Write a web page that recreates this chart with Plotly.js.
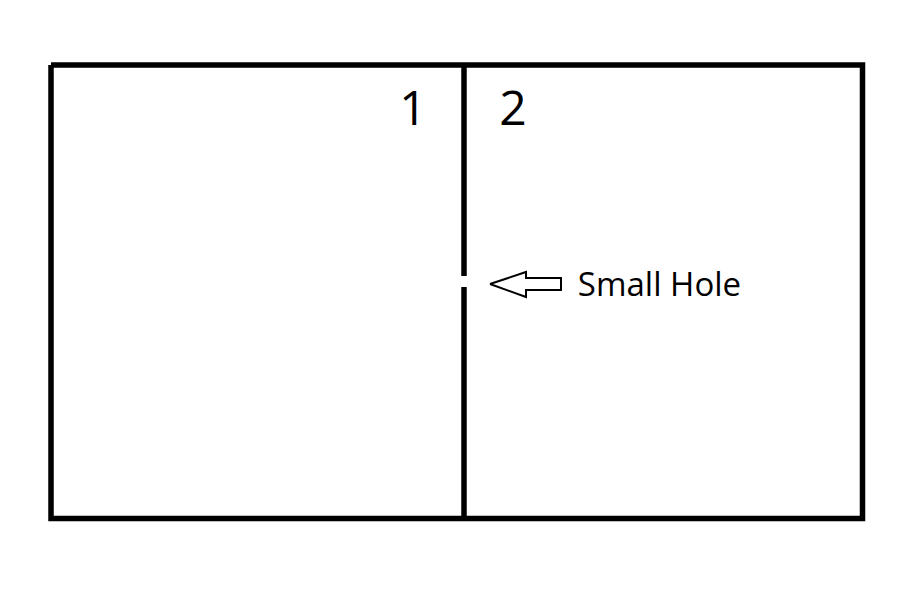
<!DOCTYPE html>
<html>
<head>
<meta charset="utf-8">
<script src="https://cdn.plot.ly/plotly-3.0.1.min.js"></script>
<style>
  html, body { margin: 0; padding: 0; background: #fff; }
  #chart { width: 923px; height: 598px; }
</style>
</head>
<body>
<div id="chart"></div>
<script>
// outer container, in pixel units of the picture
const boxX = [51, 862.5, 862.5, 51, 51];
const boxY = [65, 65, 518.5, 518.5, 65];

// wall between the two rooms, broken by the hole
const wallX = [464, 464, null, 464, 464];
const wallY = [65, 276, null, 287, 518.5];

// hollow arrow pointing at the hole
const arrowX = [490, 526, 526, 561, 561, 526, 526, 490];
const arrowY = [284, 272, 278, 278, 290, 290, 297, 284];

// labels
const labelText = ['1', '2'];
const labelX = [413, 513];
const labelY = [113, 113];

const noteText = ['Small Hole'];
const noteX = [659.5];
const noteY = [288];

let traces = [
    {
        x: boxX, y: boxY,
        mode: 'lines', type: 'scatter',
        line: { color: '#000', width: 5.5 },
        hoverinfo: 'none'
    },
    {
        x: wallX, y: wallY,
        mode: 'lines', type: 'scatter',
        line: { color: '#000', width: 5.5 },
        connectgaps: false,
        hoverinfo: 'none'
    },
    {
        x: arrowX, y: arrowY,
        mode: 'lines', type: 'scatter',
        fill: 'toself', fillcolor: '#fff',
        line: { color: '#000', width: 2 },
        hoverinfo: 'none'
    },
    {
        x: labelX, y: labelY, text: labelText,
        mode: 'text', type: 'scatter',
        textposition: 'middle center',
        textfont: { family: 'Open Sans', size: 48, color: '#000' },
        hoverinfo: 'none'
    },
    {
        x: noteX, y: noteY, text: noteText,
        mode: 'text', type: 'scatter',
        textposition: 'middle center',
        textfont: { family: 'Open Sans', size: 33, color: '#000' },
        hoverinfo: 'none'
    }
];

let layout = {
    width: 923,
    height: 598,
    margin: { l: 0, r: 0, t: 0, b: 0 },
    paper_bgcolor: '#fff',
    plot_bgcolor: '#fff',
    showlegend: false,
    xaxis: { range: [0, 923], visible: false, fixedrange: true },
    yaxis: { range: [598, 0], visible: false, fixedrange: true }
};

Plotly.newPlot('chart', traces, layout, { displayModeBar: false, staticPlot: true });
</script>
</body>
</html>
